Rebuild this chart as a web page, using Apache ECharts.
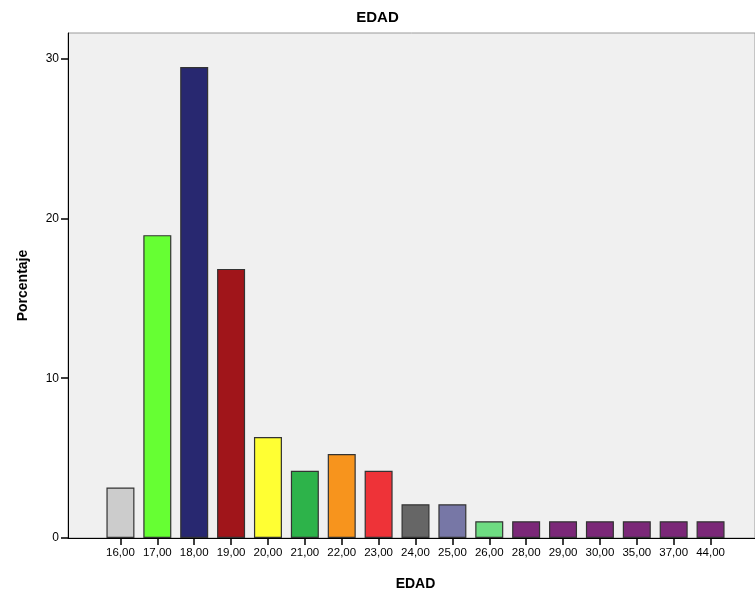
<!DOCTYPE html>
<html><head><meta charset="utf-8">
<script src="https://cdn.jsdelivr.net/npm/echarts@6/dist/echarts.min.js"></script>
<style>html,body{margin:0;padding:0;background:#fff}#c{width:755px;height:593px}</style>
</head><body><div id="c"></div>
<script>
const categories = ['16,00','17,00','18,00','19,00','20,00','21,00','22,00','23,00','24,00','25,00','26,00','28,00','29,00','30,00','35,00','37,00','44,00'];
const percentages = [3.16,18.95,29.47,16.84,6.32,4.21,5.26,4.21,2.11,2.11,1.05,1.05,1.05,1.05,1.05,1.05,1.05];
const barColors = ['#cccccc','#66ff33','#282870','#a0151a','#ffff33','#2db34a','#f7941d','#ee3338','#666666','#7777a6','#6edc82','#7b2878','#7b2878','#7b2878','#7b2878','#7b2878','#7b2878'];
const yTicks = [0,10,20,30];
const yMax = 31.6;
const font = 'Liberation Sans, Arial, sans-serif';
const chart = echarts.init(document.getElementById('c'));
chart.setOption({
  animation: false,
  title: {text: 'EDAD', left: 'center', top: 5, textStyle: {fontFamily: font, fontSize: 15, fontWeight: 'bold', color: '#000'}},
  grid: [
    {left: 68, right: 0, top: 33, bottom: 55, show: true, backgroundColor: '#f0f0f0', borderColor: '#9a9a9a', borderWidth: 1, outerBoundsMode: 'none', containLabel: false},
    {left: 102, right: 26, top: 33, bottom: 55, outerBoundsMode: 'none', containLabel: false}
  ],
  xAxis: [
    {gridIndex: 0, type: 'category', data: [''], axisLine: {lineStyle: {color: '#000'}}, axisTick: {show: false}, axisLabel: {show: false}},
    {gridIndex: 1, type: 'category', data: categories,
      axisLine: {show: true, lineStyle: {color: '#000'}},
      axisTick: {show: true, alignWithLabel: true, interval: 0, length: 7, lineStyle: {color: '#000', width: 1.5}},
      axisLabel: {fontFamily: font, fontSize: 11.5, color: '#000', margin: 9, interval: 0},
      name: 'EDAD', nameLocation: 'middle', nameGap: 39,
      nameTextStyle: {fontFamily: font, fontSize: 14, fontWeight: 'bold', color: '#000'}}
  ],
  yAxis: [
    {gridIndex: 0, type: 'value', min: 0, max: yMax,
      axisLine: {show: true, lineStyle: {color: '#000'}},
      axisTick: {show: true, length: 7, customValues: yTicks, lineStyle: {color: '#000', width: 1.5}},
      splitLine: {show: false},
      axisLabel: {fontFamily: font, fontSize: 12, color: '#000', margin: 9, customValues: yTicks},
      name: 'Porcentaje', nameLocation: 'middle', nameGap: 38,
      nameTextStyle: {fontFamily: font, fontSize: 14, fontWeight: 'bold', color: '#000'}},
    {gridIndex: 1, type: 'value', min: 0, max: yMax, show: false}
  ],
  series: [{
    type: 'bar', xAxisIndex: 1, yAxisIndex: 1, barWidth: 28,
    data: percentages.map((v, i) => ({value: v, itemStyle: {color: barColors[i]}})),
    itemStyle: {borderColor: '#333', borderWidth: 1.2}
  }]
});
</script></body></html>
